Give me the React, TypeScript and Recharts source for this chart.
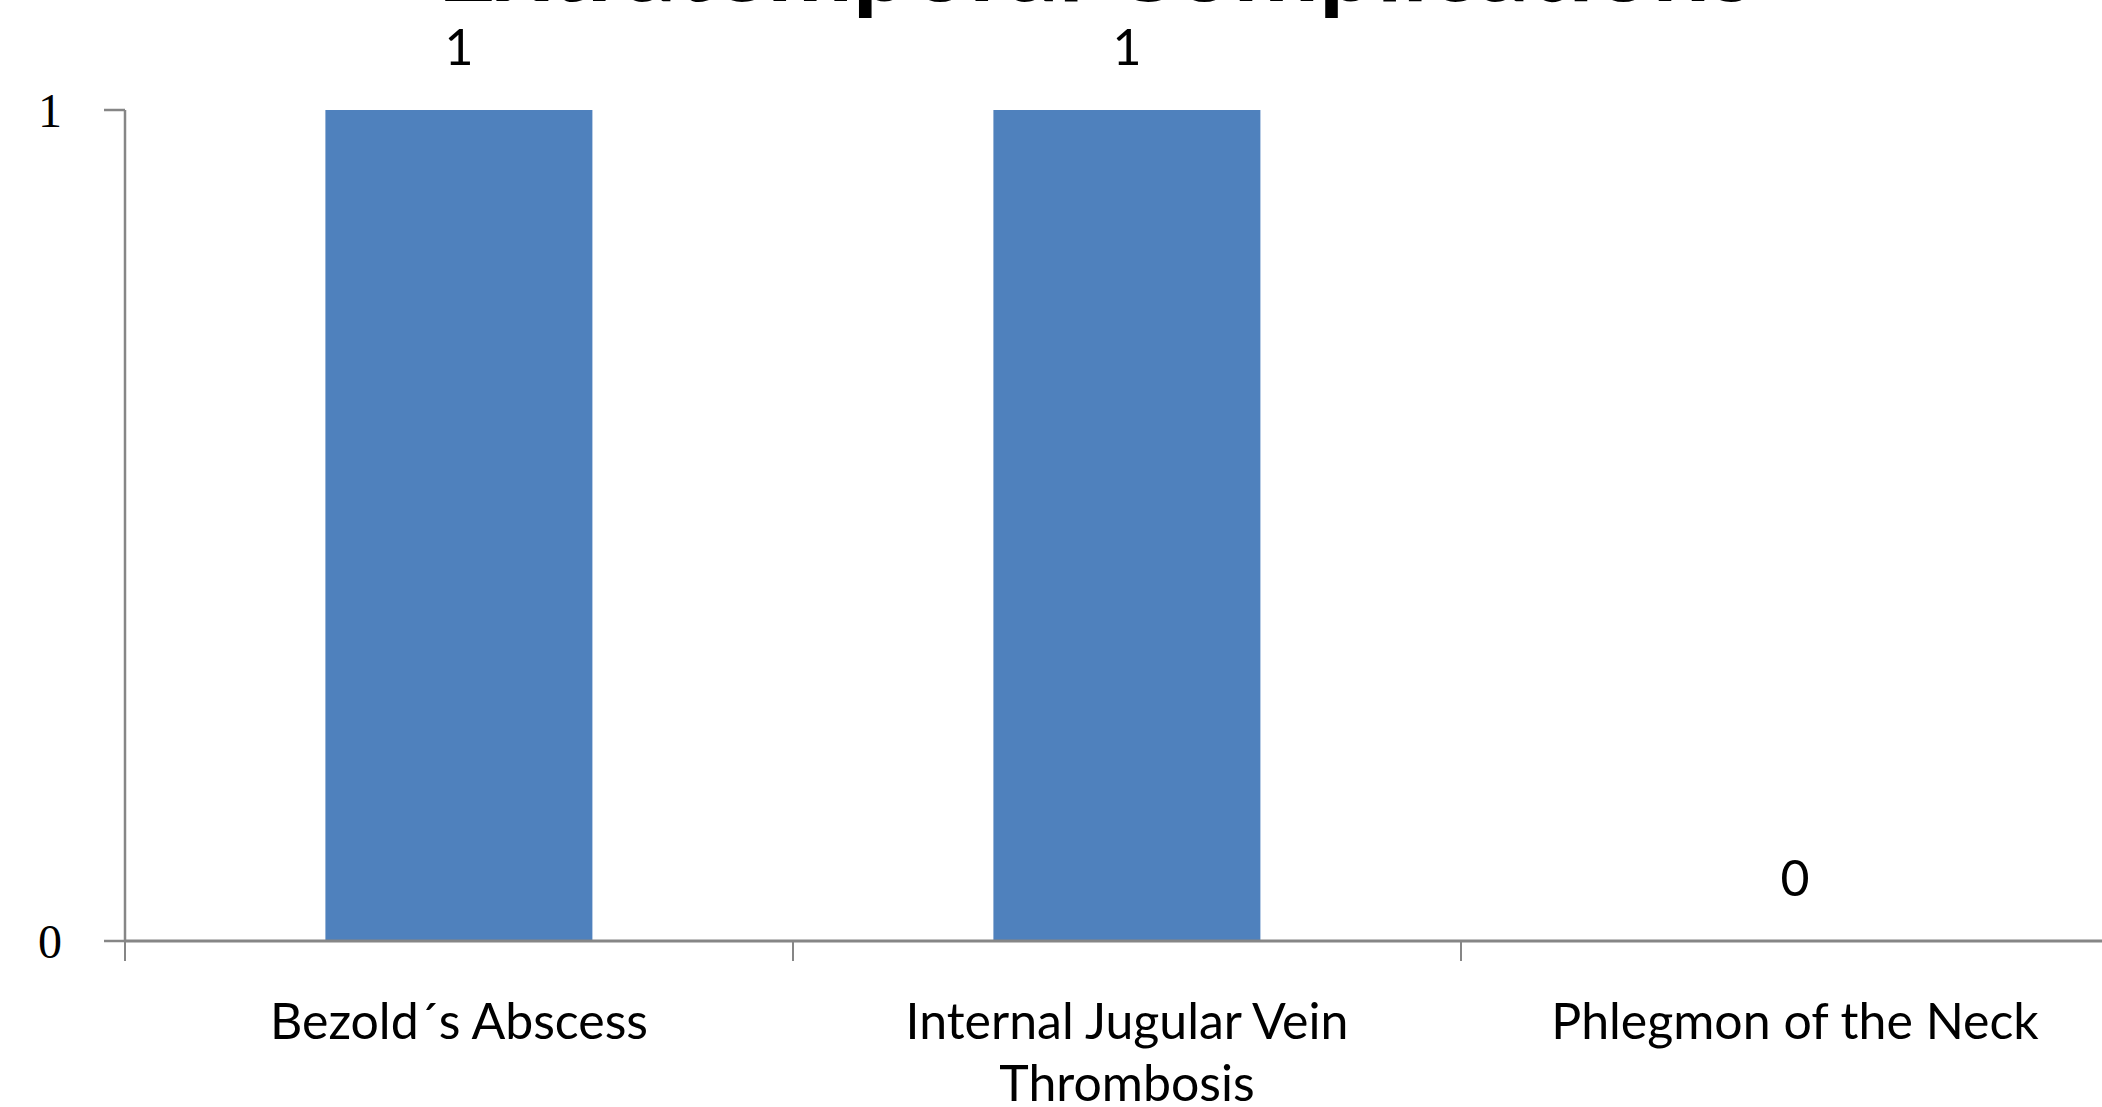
import React from "react";
import { Bar, ComposedChart, LabelList, Line, XAxis, YAxis } from "recharts";

const categories = [
  "Bezold´s Abscess",
  "Internal Jugular Vein Thrombosis",
  "Phlegmon of the Neck",
];
const counts = [1, 1, 0];
const yTicks = [0, 1];

const data = categories.map((name, i) => ({ name, count: counts[i] }));

const W = 2102;
const H = 1107;
const Y_AXIS_W = 100;
const X_AXIS_H = 150;
const margin = { top: 110, right: -27, bottom: 16, left: 125 - Y_AXIS_W };
const band = (W - 125 - margin.right) / categories.length;
const labelFont = "Lato, 'Open Sans', sans-serif";

// greedy word wrap measured with a canvas
const wrap = (text: string, maxW: number, font: string) => {
  const ctx = document.createElement("canvas").getContext("2d");
  if (!ctx) return [text];
  ctx.font = font;
  const lines: string[] = [];
  let cur = "";
  text.split(" ").forEach((w) => {
    const next = cur ? cur + " " + w : w;
    if (cur && ctx.measureText(next).width > maxW) {
      lines.push(cur);
      cur = w;
    } else cur = next;
  });
  if (cur) lines.push(cur);
  return lines;
};

const XTick = (props: any) => {
  const { x, y, payload } = props;
  const edge = x - band / 2;
  const lines = wrap(String(payload.value), band - 110, `50px ${labelFont}`);
  return (
    <g>
      <line x1={edge} y1={y} x2={edge} y2={y + 20} stroke="#868686" strokeWidth={2} />
      <text x={x} y={y + 98} textAnchor="middle" fill="#000" fontSize={50} fontFamily={labelFont}>
        {lines.map((l, i) => (
          <tspan key={i} x={x} dy={i === 0 ? 0 : 62}>
            {l}
          </tspan>
        ))}
      </text>
    </g>
  );
};

export default function App() {
  return (
    <div
      style={{
        position: "absolute",
        left: 0,
        top: 0,
        width: W,
        height: H,
        background: "#fff",
        overflow: "hidden",
      }}
    >
      <ComposedChart width={W} height={H} data={data} margin={margin} barCategoryGap="30%">
        <XAxis
          dataKey="name"
          height={X_AXIS_H}
          interval={0}
          axisLine={{ stroke: "#868686", strokeWidth: 3 }}
          tickLine={false}
          tickSize={0}
          tickMargin={0}
          tick={<XTick />}
        />
        <YAxis
          width={Y_AXIS_W}
          domain={[0, 1]}
          ticks={yTicks}
          axisLine={{ stroke: "#868686", strokeWidth: 2.5 }}
          tickLine={{ stroke: "#868686", strokeWidth: 2.5 }}
          tickSize={21}
          tickMargin={42}
          tick={{ fill: "#000", fontSize: 48, fontFamily: "'Liberation Serif', serif" }}
        />
        <Bar dataKey="count" fill="#4F81BD" isAnimationActive={false} />
        <Line
          dataKey="count"
          stroke="none"
          dot={false}
          activeDot={false}
          isAnimationActive={false}
        >
          <LabelList
            dataKey="count"
            position="top"
            offset={45}
            fill="#000"
            style={{ fontSize: 50, fontFamily: labelFont }}
          />
        </Line>
      </ComposedChart>
      <svg
        width={W}
        height={H}
        style={{ position: "absolute", left: 0, top: 0, pointerEvents: "none" }}
      >
        <text
          x={1096}
          y={1}
          textAnchor="middle"
          fontSize={102}
          fontWeight={700}
          fontFamily={labelFont}
          fill="#000"
        >
          Extratemporal Complications
        </text>
      </svg>
    </div>
  );
}
